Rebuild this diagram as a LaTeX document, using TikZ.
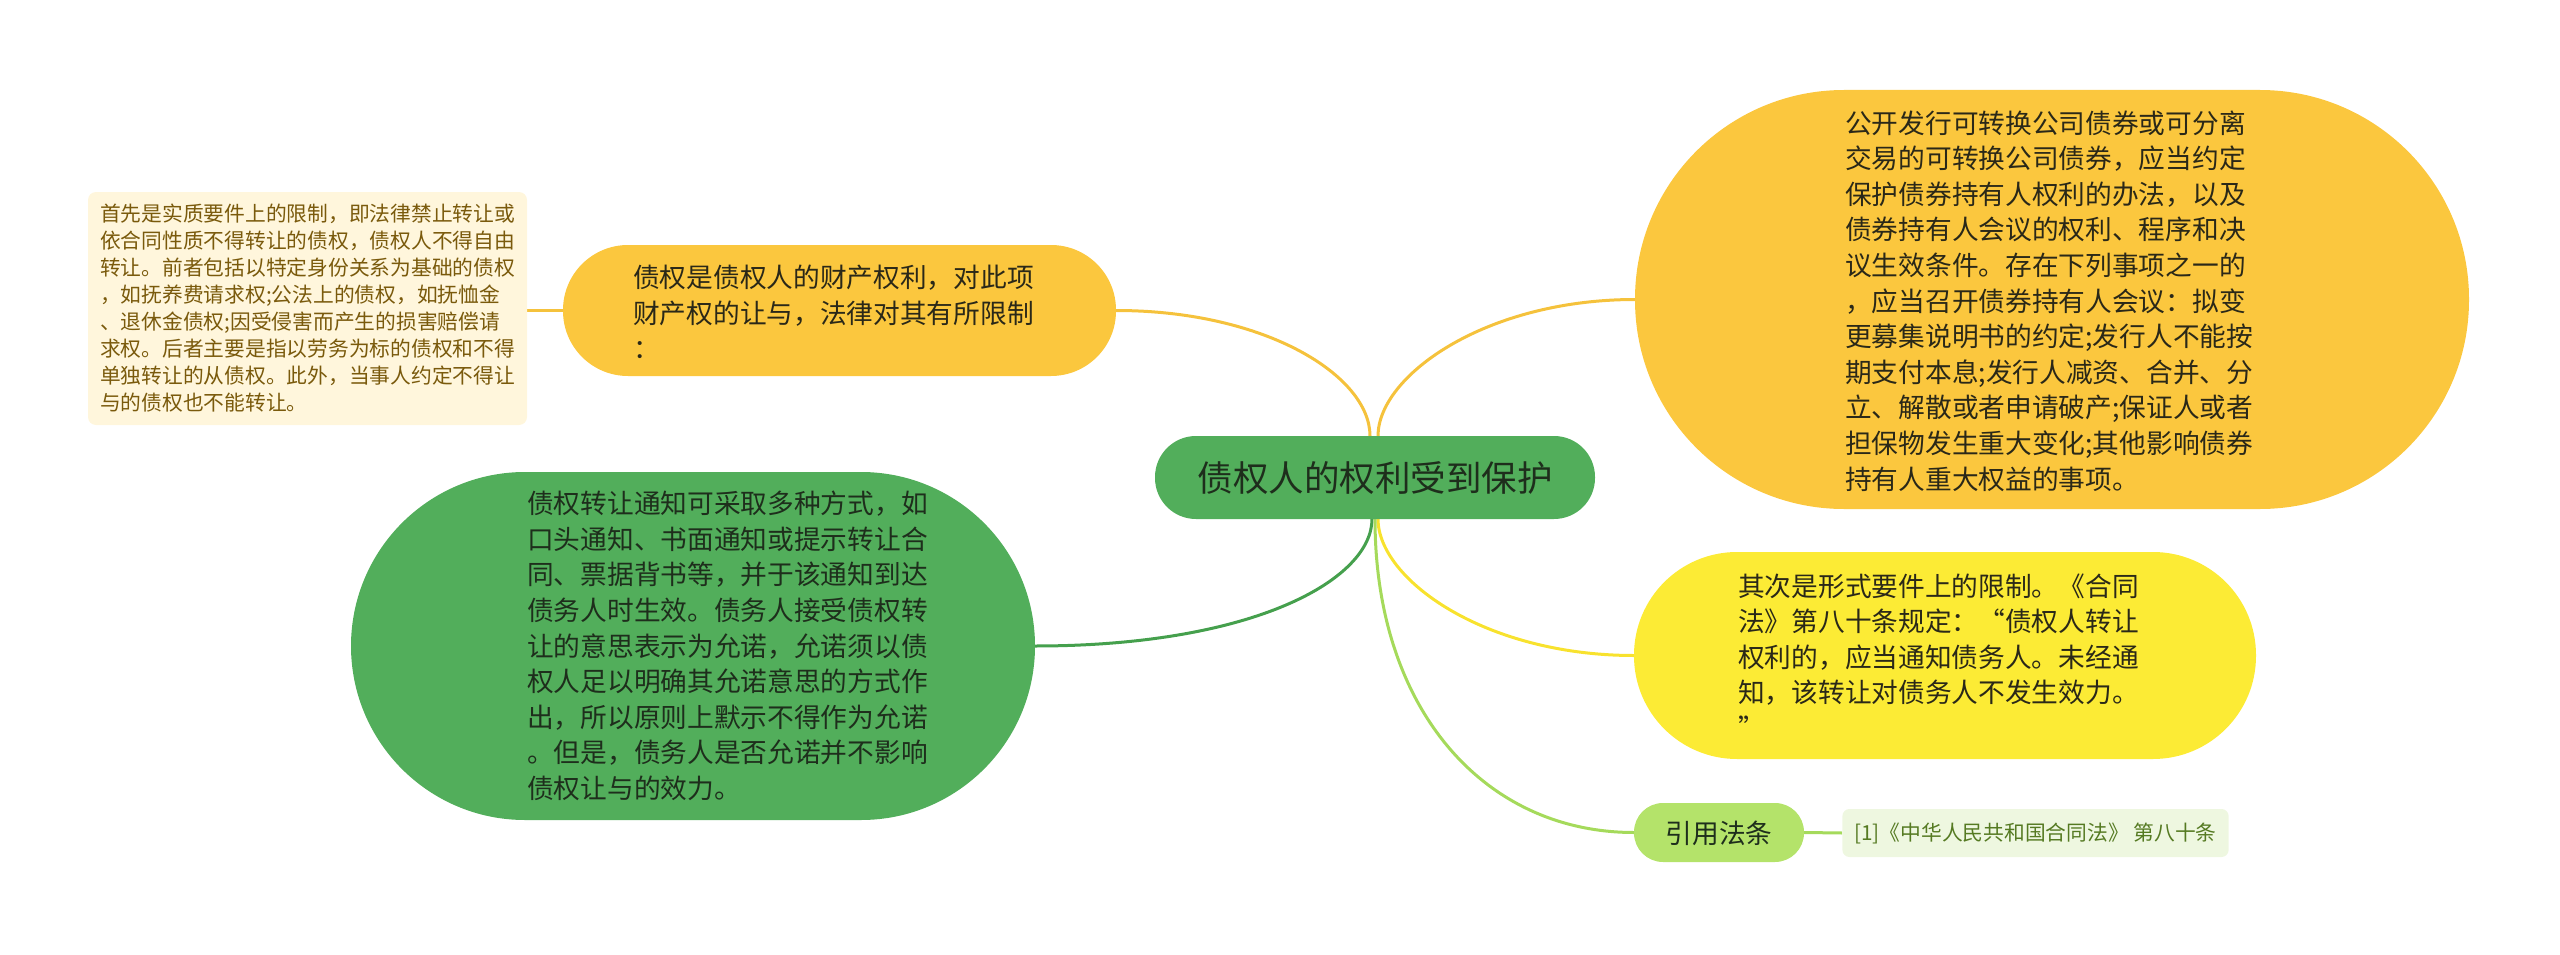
\documentclass[tikz,border=0pt]{standalone}
\usepackage{fontspec}
\setmainfont{Noto Sans CJK SC}
\usetikzlibrary{backgrounds}
\definecolor{gold}{HTML}{FBC73E}
\definecolor{goldline}{HTML}{F5C23C}
\definecolor{lemon}{HTML}{FCEB35}
\definecolor{lemonline}{HTML}{F8E22E}
\definecolor{leaf}{HTML}{52AE5B}
\definecolor{leafline}{HTML}{45A04D}
\definecolor{lime}{HTML}{B4E36A}
\definecolor{limeline}{HTML}{A5DA5B}
\definecolor{notefill}{HTML}{FFF6DC}
\definecolor{notetext}{HTML}{7A5A0C}
\definecolor{citefill}{HTML}{EEF7E0}
\definecolor{citetext}{HTML}{557A22}
\definecolor{darktext}{HTML}{2A2818}
\definecolor{greentext}{HTML}{1E2E1C}
\begin{document}
\begin{tikzpicture}[x=1pt,y=-1pt,
  pill/.style={draw=none, inner sep=0pt, outer sep=0pt},
  bodytext/.style={inner sep=0pt, anchor=west, align=left, font=\fontsize{26.7}{35.6}\selectfont},
  smalltext/.style={font=\fontsize{20.75}{27}\selectfont, align=left},
  conn/.style={line width=3pt}
]
\useasboundingbox (0,0) rectangle (2560,955);

% central node
\node[pill, fill=leaf, minimum width=440pt, minimum height=83pt, rounded corners=41pt] (c) at (1375,477.5) {};
\node[inner sep=0pt, text=greentext, font=\fontsize{35.5}{40}\selectfont] (ctext) at (1375,478) {债权人的权利受到保护};

% top-left golden node
\node[pill, fill=gold, minimum width=553pt, minimum height=131pt, rounded corners=65pt] (tl) at (839.5,310.5) {};
\node[bodytext, text=darktext] (tltext) at (633,312) {债权是债权人的财产权利，对此项\\财产权的让与，法律对其有所限制\\：};

% note box
\node[smalltext, fill=notefill, text=notetext, rounded corners=8pt, text width=415pt, inner xsep=12pt, minimum height=233pt] (note) at (307.5,308.5) {首先是实质要件上的限制，即法律禁止转让或\\依合同性质不得转让的债权，债权人不得自由\\转让。前者包括以特定身份关系为基础的债权\\，如抚养费请求权;公法上的债权，如抚恤金\\、退休金债权;因受侵害而产生的损害赔偿请\\求权。后者主要是指以劳务为标的债权和不得\\单独转让的从债权。此外，当事人约定不得让\\与的债权也不能转让。};

% top-right golden node
\node[pill, fill=gold, minimum width=834pt, minimum height=419pt, rounded corners=209pt] (tr) at (2052,299.5) {};
\node[bodytext, text=darktext] (trtext) at (1845,301) {公开发行可转换公司债券或可分离\\交易的可转换公司债券，应当约定\\保护债券持有人权利的办法，以及\\债券持有人会议的权利、程序和决\\议生效条件。存在下列事项之一的\\，应当召开债券持有人会议：拟变\\更募集说明书的约定;发行人不能按\\期支付本息;发行人减资、合并、分\\立、解散或者申请破产;保证人或者\\担保物发生重大变化;其他影响债券\\持有人重大权益的事项。};

% left green node
\node[pill, fill=leaf, minimum width=684pt, minimum height=348pt, rounded corners=174pt] (gl) at (693,646) {};
\node[bodytext, text=greentext] (gltext) at (527,646) {债权转让通知可采取多种方式，如\\口头通知、书面通知或提示转让合\\同、票据背书等，并于该通知到达\\债务人时生效。债务人接受债权转\\让的意思表示为允诺，允诺须以债\\权人足以明确其允诺意思的方式作\\出，所以原则上默示不得作为允诺\\。但是，债务人是否允诺并不影响\\债权让与的效力。};

% bottom-right lemon node
\node[pill, fill=lemon, minimum width=622pt, minimum height=207pt, rounded corners=103pt] (br) at (1945,655.5) {};
\node[bodytext, text=darktext] (brtext) at (1738,656) {其次是形式要件上的限制。《合同\\法》第八十条规定：“债权人转让\\权利的，应当通知债务人。未经通\\知，该转让对债务人不发生效力。\\”};

% citation label node
\node[pill, fill=lime, minimum width=170pt, minimum height=59pt, rounded corners=29pt] (law) at (1719,832.5) {};
\node[inner sep=0pt, text=greentext, font=\fontsize{26.7}{30}\selectfont] (lawtext) at (1719,833) {引用法条};

% citation box
\node[smalltext, fill=citefill, text=citetext, rounded corners=7pt, inner xsep=12pt, minimum height=48pt] (cite) at (2035.5,833) {[1]《中华人民共和国合同法》 第八十条};

\begin{scope}[on background layer]
  \draw[conn, goldline] (tl.east) .. controls ([xshift=150pt]tl.east) and ([xshift=-5pt,yshift=60pt]c.north) .. ([xshift=-5pt]c.north);
  \draw[conn, goldline] (note.east |- tl.west) -- (tl.west);
  \draw[conn, goldline] (tr.west) .. controls ([xshift=-150pt]tr.west) and ([xshift=3pt,yshift=60pt]c.north) .. ([xshift=3pt]c.north);
  \draw[conn, leafline] (gl.east) .. controls ([xshift=220pt]gl.east) and ([xshift=-3pt,yshift=-60pt]c.south) .. ([xshift=-3pt]c.south);
  \draw[conn, lemonline] (br.west) .. controls ([xshift=-150pt]br.west) and ([xshift=3pt,yshift=-60pt]c.south) .. ([xshift=3pt]c.south);
  \draw[conn, limeline] (law.west) .. controls ([xshift=-150pt]law.west) and ([yshift=-190pt]c.south) .. (c.south);
  \draw[conn, limeline] (law.east) -- (cite.west);
\end{scope}
\end{tikzpicture}
\end{document}
